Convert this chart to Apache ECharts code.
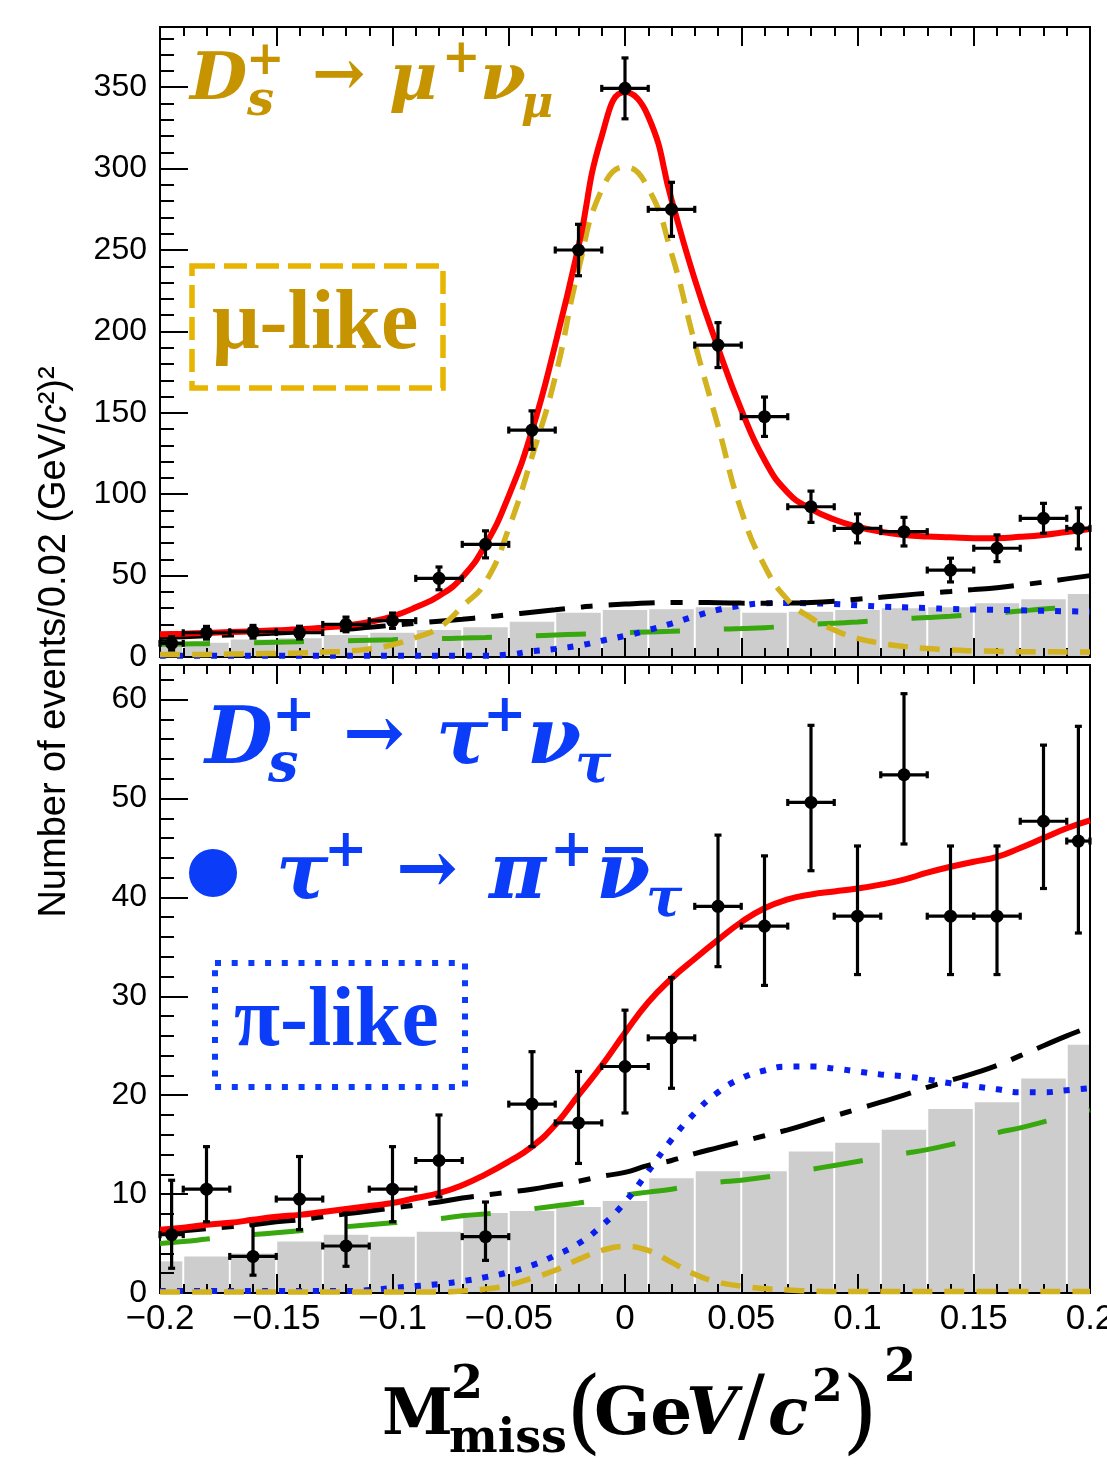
<!DOCTYPE html>
<html>
<head>
<meta charset="utf-8">
<script src="https://cdn.jsdelivr.net/npm/echarts@6/dist/echarts.min.js"></script>
<style>
  html, body { margin: 0; padding: 0; background: #fff; }
  #chart { width: 1107px; height: 1464px; }
</style>
</head>
<body>
<div id="chart"></div>
<script>
// x positions of the fitted curves (GeV/c^2)^2
const curveX = [-0.20, -0.19, -0.18, -0.17, -0.16, -0.15, -0.14, -0.13, -0.12, -0.11,
  -0.10, -0.09, -0.08, -0.07, -0.06, -0.05, -0.04, -0.03, -0.02, -0.01,
  0.00, 0.01, 0.02, 0.03, 0.04, 0.05, 0.06, 0.07, 0.08, 0.09,
  0.10, 0.11, 0.12, 0.13, 0.14, 0.15, 0.16, 0.17, 0.18, 0.19, 0.20]

// upper panel (mu-like) curves
const muTotal = [13.9, 14.3, 14.8, 15.3, 15.8, 16.4, 17.0, 18.0, 19.3, 21.5,
  25.0, 30.5, 37.5, 49, 69, 99, 139, 192, 252, 320,
  347, 332, 281, 232, 190, 152, 121, 101, 91, 84.5,
  80, 77, 75, 74, 73.5, 73, 73, 73.8, 75, 76.8, 78.6]
const muSignal = [1.5, 1.5, 1.6, 1.8, 2.0, 2.2, 2.5, 3.0, 3.6, 5.0,
  7.5, 12, 18, 31, 46, 79, 123, 172, 238, 287,
  301, 288, 248, 193, 142, 90, 56, 35, 24, 16.6,
  11.5, 8.5, 6.5, 5.2, 4.3, 3.8, 3.5, 3.3, 3.2, 3.1, 3.0]
const muBkgTotal = [12.0, 12.5, 13.0, 13.5, 14.0, 14.7, 15.4, 16.2, 17.0, 18.2,
  19.5, 20.7, 22.0, 23.2, 24.5, 26.0, 27.5, 29.0, 30.5, 31.7,
  32.5, 33.2, 33.5, 33.5, 33.3, 33.1, 33.0, 33.1, 33.5, 34.3,
  35.5, 36.7, 38.0, 39.2, 40.3, 41.4, 42.6, 44.2, 46.0, 48.0, 50.0]
const muBkgGreen = [7.8, 8.0, 8.2, 8.5, 8.8, 9.1, 9.4, 9.7, 10.0, 10.3,
  10.6, 11.0, 11.3, 11.6, 12.0, 12.5, 13.0, 13.5, 14.0, 14.5,
  15.0, 15.4, 15.8, 16.4, 17.0, 17.5, 18.0, 19.0, 20.0, 20.8,
  21.5, 22.5, 23.5, 24.2, 25.0, 26.0, 27.0, 28.2, 29.5, 30.3, 31.0]
const muBkgBlue = [0.8, 0.8, 0.8, 0.8, 0.8, 0.8, 0.8, 0.8, 0.8, 0.8,
  0.8, 0.8, 0.8, 0.8, 0.8, 1.5, 3.5, 5.0, 7.0, 10.0,
  13.0, 16.5, 20.5, 25.0, 29.0, 31.5, 33.0, 33.2, 33.0, 32.5,
  31.8, 31.0, 30.5, 30.0, 29.5, 29.2, 29.0, 28.7, 28.4, 28.1, 27.8]

// lower panel (pi-like) curves
const piTotal = [6.4, 6.6, 6.9, 7.1, 7.4, 7.7, 7.9, 8.2, 8.5, 8.8,
  9.1, 9.6, 10.1, 10.9, 12.0, 13.3, 14.8, 17.0, 20.0, 23.0,
  26.3, 29.4, 31.8, 33.8, 35.7, 37.5, 38.9, 39.8, 40.3, 40.6,
  40.9, 41.3, 41.8, 42.5, 43.1, 43.6, 44.1, 45.0, 46.0, 47.0, 47.8]
const piSignal = [0.1, 0.1, 0.1, 0.1, 0.1, 0.1, 0.1, 0.1, 0.1, 0.1,
  0.1, 0.1, 0.1, 0.2, 0.4, 0.8, 1.5, 2.3, 3.4, 4.3,
  4.7, 4.3, 3.1, 1.9, 1.1, 0.7, 0.45, 0.3, 0.2, 0.15,
  0.15, 0.15, 0.15, 0.15, 0.15, 0.15, 0.15, 0.15, 0.15, 0.15, 0.15]
const piBkgTotal = [6.1, 6.3, 6.5, 6.7, 6.9, 7.2, 7.4, 7.7, 8.0, 8.3,
  8.6, 8.9, 9.2, 9.6, 9.9, 10.2, 10.5, 10.9, 11.3, 11.8,
  12.2, 12.9, 13.4, 14.1, 14.7, 15.3, 15.9, 16.5, 17.2, 17.9,
  18.6, 19.3, 20.0, 20.8, 21.5, 22.2, 23.0, 24.0, 25.0, 26.0, 26.9]
const piBkgGreen = [5.0, 5.2, 5.45, 5.7, 5.9, 6.1, 6.3, 6.5, 6.7, 6.9,
  7.1, 7.3, 7.5, 7.8, 8.0, 8.2, 8.5, 8.8, 9.1, 9.5,
  9.9, 10.2, 10.5, 10.9, 11.2, 11.4, 11.7, 12.1, 12.5, 12.9,
  13.3, 13.7, 14.1, 14.5, 15.0, 15.6, 16.2, 16.7, 17.3, 17.9, 18.5]
const piBkgBlue = [0.2, 0.2, 0.2, 0.2, 0.2, 0.2, 0.2, 0.2, 0.2, 0.3,
  0.5, 0.7, 0.9, 1.2, 1.6, 2.1, 2.8, 3.8, 5.0, 6.8,
  9.2, 12.3, 15.5, 18.2, 20.3, 21.7, 22.5, 22.9, 22.9, 22.7,
  22.4, 22.1, 21.9, 21.6, 21.2, 20.9, 20.6, 20.3, 20.3, 20.5, 20.7]

// histogram bins (grey)
const binLo = [-0.20, -0.19, -0.17, -0.15, -0.13, -0.11, -0.09, -0.07, -0.05, -0.03, -0.01,
  0.01, 0.03, 0.05, 0.07, 0.09, 0.11, 0.13, 0.15, 0.17, 0.19]
const binHi = [-0.19, -0.17, -0.15, -0.13, -0.11, -0.09, -0.07, -0.05, -0.03, -0.01, 0.01,
  0.03, 0.05, 0.07, 0.09, 0.11, 0.13, 0.15, 0.17, 0.19, 0.20]
const muHist = [9.4, 8.8, 10.8, 11.5, 13.5, 14.9, 16.6, 18.2, 21.7, 27.2, 28.8,
  29.3, 30.5, 27.2, 27.8, 28.9, 29.9, 30.5, 33.0, 35.4, 38.7]
const piHist = [3.2, 3.7, 4.0, 5.2, 5.9, 5.7, 6.2, 8.1, 8.3, 8.7, 9.3,
  11.6, 12.3, 12.3, 14.3, 15.2, 16.5, 18.6, 19.3, 21.7, 25.1]

// data points
const ptX = [-0.195, -0.18, -0.16, -0.14, -0.12, -0.10, -0.08, -0.06, -0.04, -0.02, 0.00,
  0.02, 0.04, 0.06, 0.08, 0.10, 0.12, 0.14, 0.16, 0.18, 0.195]
const ptHalfW = [0.005, 0.01, 0.01, 0.01, 0.01, 0.01, 0.01, 0.01, 0.01, 0.01, 0.01,
  0.01, 0.01, 0.01, 0.01, 0.01, 0.01, 0.01, 0.01, 0.01, 0.005]
const muPts = [8.4, 14.9, 15.5, 15.0, 20.0, 22.3, 48.3, 69.2, 139.4, 250, 349.3,
  275, 191.6, 147.6, 92.3, 79, 77, 53.4, 66.8, 85.2, 79]
const muErr = [4.1, 3.9, 3.9, 3.9, 4.5, 4.7, 7.0, 8.3, 11.8, 15.8, 18.7,
  16.6, 13.8, 12.1, 9.6, 8.9, 8.8, 7.3, 8.2, 9.2, 12.6]
const piPts = [5.9, 10.5, 3.7, 9.5, 4.75, 10.5, 13.4, 5.7, 19.1, 17.2, 22.9,
  25.8, 39.1, 37.1, 49.6, 38.1, 52.4, 38.1, 38.1, 47.7, 45.7]
const piErrLo = [3.4, 3.3, 1.9, 3.1, 2.05, 3.3, 3.7, 2.4, 4.3, 4.1, 4.7,
  5.1, 6.1, 6.0, 6.9, 5.9, 7.0, 5.9, 5.9, 6.8, 9.3]
const piErrHi = [5.5, 4.3, 3.2, 4.3, 3.35, 4.3, 4.6, 3.5, 5.3, 5.2, 5.7,
  6.1, 7.2, 7.1, 7.8, 7.1, 8.2, 7.1, 7.1, 7.7, 11.6]

const GOLD = '#c59400'
const BLUE = '#0b3cf8'

const chart = echarts.init(document.getElementById('chart'))

function histSeries(xi, yi, heights) {
  return {
    type: 'custom', xAxisIndex: xi, yAxisIndex: yi, z: 1, silent: true,
    data: heights.map((h, i) => [binLo[i], binHi[i], h]),
    renderItem(params, api) {
      const p0 = api.coord([api.value(0), api.value(2)])
      const p1 = api.coord([api.value(1), 0])
      return {
        type: 'rect',
        shape: { x: p0[0] + 1, y: p0[1], width: p1[0] - p0[0] - 2, height: p1[1] - p0[1] },
        style: { fill: '#cdcdcd' }
      }
    }
  }
}

function curve(xi, yi, ys, color, dash, width, z) {
  return {
    type: 'line', xAxisIndex: xi, yAxisIndex: yi, z: z, silent: true,
    data: curveX.map((x, i) => [x, ys[i]]),
    showSymbol: false, symbol: 'none',
    smooth: 0.5,
    lineStyle: { color: color, width: width, type: dash, cap: 'butt' }
  }
}

function pointSeries(xi, yi, ys, lo, hi) {
  return {
    type: 'custom', xAxisIndex: xi, yAxisIndex: yi, z: 10, silent: true,
    data: ptX.map((x, i) => [x, ys[i], lo[i], hi[i], ptHalfW[i]]),
    renderItem(params, api) {
      const x = api.value(0), y = api.value(1)
      const c = api.coord([x, y])
      const top = api.coord([x, y + api.value(3)])[1]
      const bot = api.coord([x, y - api.value(2)])[1]
      const l = api.coord([x - api.value(4), y])[0]
      const r = api.coord([x + api.value(4), y])[0]
      const st = { stroke: '#000', lineWidth: 3.2 }
      const cap = 3.5
      return {
        type: 'group',
        children: [
          { type: 'line', shape: { x1: c[0], y1: top, x2: c[0], y2: bot }, style: st },
          { type: 'line', shape: { x1: l, y1: c[1], x2: r, y2: c[1] }, style: st },
          { type: 'line', shape: { x1: c[0] - cap, y1: top, x2: c[0] + cap, y2: top }, style: st },
          { type: 'line', shape: { x1: c[0] - cap, y1: bot, x2: c[0] + cap, y2: bot }, style: st },
          { type: 'line', shape: { x1: l, y1: c[1] - cap, x2: l, y2: c[1] + cap }, style: st },
          { type: 'line', shape: { x1: r, y1: c[1] - cap, x2: r, y2: c[1] + cap }, style: st },
          { type: 'circle', shape: { cx: c[0], cy: c[1], r: 6.5 }, style: { fill: '#000' } }
        ]
      }
    }
  }
}

const lineBlack = { show: true, onZero: false, lineStyle: { color: '#000', width: 2 } }
const lineHidden = { show: false, onZero: false }

function xAx(gridIndex, position, labels) {
  return {
    type: 'value', gridIndex: gridIndex, position: position, z: 2,
    min: -0.2, max: 0.2, interval: 0.05,
    axisLine: lineBlack,
    axisTick: { show: true, inside: true, length: 19, lineStyle: { color: '#000', width: 2 } },
    minorTick: { show: true, splitNumber: 5, length: 9, lineStyle: { color: '#000', width: 2 } },
    splitLine: { show: false },
    axisLabel: labels ? {
      show: true, margin: 9, color: '#000', fontSize: 35, fontFamily: 'Liberation Sans',
      hideOverlap: false,
      formatter: v => {
        const n = +(+v).toFixed(2)
        return n === 0 ? '0' : String(n).replace('-', '\u2212')
      }
    } : { show: false }
  }
}

function yAx(gridIndex, max, interval, len, labels) {
  return {
    type: 'value', gridIndex: gridIndex, position: 'left', z: 2,
    min: 0, max: max, interval: interval,
    axisLine: labels ? lineBlack : lineHidden,
    axisTick: { show: true, inside: true, length: len, lineStyle: { color: '#000', width: 2 } },
    splitLine: { show: false },
    axisLabel: labels ? {
      show: true, margin: 13, color: '#000', fontSize: 32, fontFamily: 'Liberation Sans',
      formatter: v => (Math.abs(v % interval) < 1e-6 ? String(v) : '')
    } : { show: false }
  }
}

// text helper: x = left edge, base = baseline
function tx(x, base, text, size, o) {
  o = o || {}
  return {
    type: 'text', x: x, y: base - 0.35 * size, z: 100, silent: true,
    style: {
      text: text,
      fill: o.fill || '#000',
      font: (o.italic ? 'italic ' : '') + (o.bold ? 'bold ' : '') + size + 'px "' + (o.family || 'DejaVu Serif') + '"',
      align: 'left', verticalAlign: 'middle',
      textAlign: 'left', textVerticalAlign: 'middle'
    }
  }
}

const gi = { fill: GOLD, bold: true, italic: true }
const gu = { fill: GOLD, bold: true }
const bi = { fill: BLUE, bold: true, italic: true }
const bu = { fill: BLUE, bold: true }
const kb = { bold: true }
const kbi = { bold: true, italic: true }

const graphics = [
  // D_s^+ -> mu^+ nu_mu
  tx(190, 105, 'D', 66, gi),
  tx(246, 78, '+', 46, gu),
  tx(247, 119, 's', 48, gi),
  tx(312, 101, '\u2192', 64, gu),
  tx(389, 105, '\u03bc', 66, gi),
  tx(442, 76, '+', 46, gu),
  tx(480, 105, '\u03bd', 66, gi),
  tx(521, 121, '\u03bc', 44, gi),
  // mu-like box
  { type: 'rect', z: 100, silent: true, shape: { x: 192, y: 266, width: 251, height: 122 },
    style: { fill: 'none', stroke: '#e8b400', lineWidth: 5.5, lineDash: [23, 9] } },
  tx(212, 356, '\u03bc-like', 84, { fill: GOLD, bold: true, family: 'Liberation Serif' }),
  // D_s^+ -> tau^+ nu_tau
  tx(205, 770, 'D', 78, bi),
  tx(272, 736, '+', 52, bu),
  tx(268, 786, 's', 54, bi),
  tx(343, 765, '\u2192', 74, bu),
  tx(436, 770, '\u03c4', 78, bi),
  tx(483, 736, '+', 52, bu),
  tx(527, 770, '\u03bd', 78, bi),
  tx(575, 787, '\u03c4', 54, bi),
  // dot tau^+ -> pi^+ nubar_tau
  { type: 'circle', z: 100, silent: true, shape: { cx: 213, cy: 873, r: 24 }, style: { fill: BLUE } },
  tx(276, 905, '\u03c4', 78, bi),
  tx(324, 871, '+', 52, bu),
  tx(396, 900, '\u2192', 74, bu),
  tx(489, 905, '\u03c0', 78, bi),
  tx(550, 871, '+', 52, bu),
  tx(596, 905, '\u03bd', 78, bi),
  { type: 'rect', z: 100, silent: true, shape: { x: 605, y: 847, width: 38, height: 6 }, style: { fill: BLUE } },
  tx(646, 921, '\u03c4', 54, bi),
  // pi-like box
  { type: 'rect', z: 100, silent: true, shape: { x: 215, y: 963, width: 250, height: 124 },
    style: { fill: 'none', stroke: BLUE, lineWidth: 6, lineDash: [6, 10.7] } },
  tx(234, 1053, '\u03c0-like', 84, { fill: BLUE, bold: true, family: 'Liberation Serif' }),
  // x-axis title  M^2_miss (GeV/c^2)^2
  tx(382, 1440, 'M', 64, kb),
  tx(451, 1402, '2', 46, kb),
  tx(449, 1456, 'miss', 46, kb),
  tx(566, 1450, '(', 92, {}),
  tx(594, 1440, 'Ge', 66, kb),
  tx(686, 1440, 'V', 66, kbi),
  tx(738, 1440, '/', 80, {}),
  tx(768, 1440, 'c', 66, kbi),
  tx(812, 1405, '2', 44, kb),
  tx(842, 1450, ')', 92, {}),
  tx(884, 1385, '2', 46, kb),
  // y-axis title
  {
    type: 'text', x: 55, y: 642, rotation: Math.PI / 2, z: 100, silent: true,
    style: {
      text: 'Number of events/0.02 (GeV/{i|c}\u00b2)\u00b2',
      fill: '#000', fontSize: 38, fontFamily: 'Liberation Sans',
      align: 'center', verticalAlign: 'middle',
      textAlign: 'center', textVerticalAlign: 'middle',
      rich: { i: { fontStyle: 'italic', fontSize: 38, fontFamily: 'Liberation Sans', fill: '#000' } }
    }
  }
]

const option = {
  animation: false,
  backgroundColor: '#fff',
  grid: [
    { left: 160, top: 27, width: 930, height: 630, containLabel: false, outerBoundsMode: 'none',
      show: true, borderColor: '#000', borderWidth: 2, z: 2 },
    { left: 160, top: 665, width: 930, height: 628, containLabel: false, outerBoundsMode: 'none',
      show: true, borderColor: '#000', borderWidth: 2, z: 2 }
  ],
  xAxis: [
    xAx(0, 'bottom', false),
    xAx(0, 'top', false),
    xAx(1, 'bottom', true),
    xAx(1, 'top', false)
  ],
  yAxis: [
    yAx(0, 387, 50, 28, true),
    yAx(0, 387, 10, 14, false),
    yAx(1, 63.5, 10, 28, true),
    yAx(1, 63.5, 2, 14, false)
  ],
  series: [
    histSeries(0, 0, muHist),
    curve(0, 0, muBkgGreen, '#38a80e', [50, 44], 5, 3),
    curve(0, 0, muBkgBlue, '#0a1ef0', [6, 11], 6, 3),
    curve(0, 0, muBkgTotal, '#000', [46, 16, 12, 16], 5, 3),
    curve(0, 0, muSignal, '#d2b21e', [20, 12], 5.5, 3),
    curve(0, 0, muTotal, '#ff0000', 'solid', 6, 4),
    pointSeries(0, 0, muPts, muErr, muErr),

    histSeries(2, 2, piHist),
    curve(2, 2, piBkgGreen, '#38a80e', [50, 44], 5, 3),
    curve(2, 2, piBkgBlue, '#0a1ef0', [6, 11], 6, 3),
    curve(2, 2, piBkgTotal, '#000', [46, 16, 12, 16], 5, 3),
    curve(2, 2, piSignal, '#d2b21e', [20, 12], 5.5, 3),
    curve(2, 2, piTotal, '#ff0000', 'solid', 6, 4),
    pointSeries(2, 2, piPts, piErrLo, piErrHi)
  ],
  graphic: graphics
}

chart.setOption(option)
</script>
</body>
</html>
